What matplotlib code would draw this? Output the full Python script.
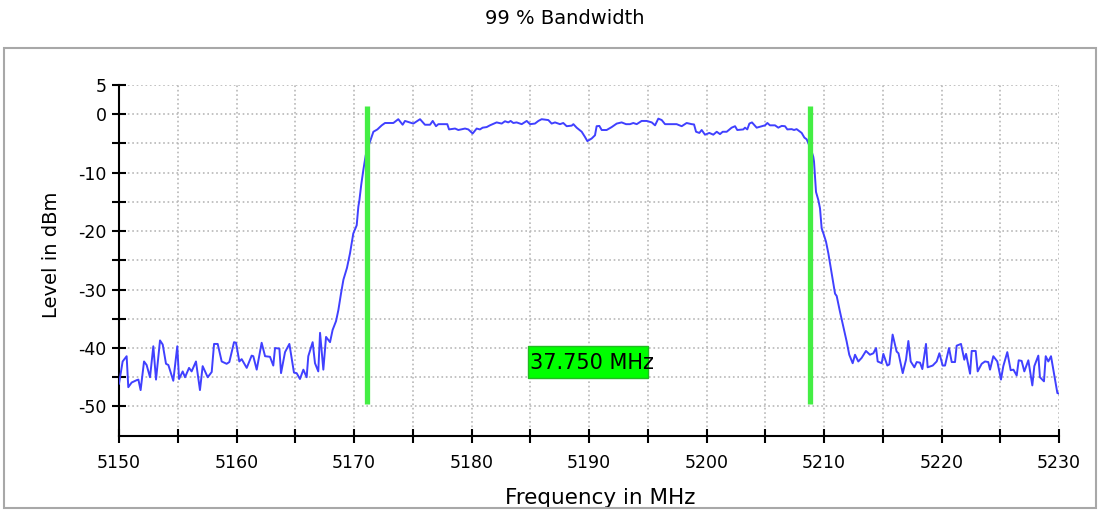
import numpy as np
import matplotlib
matplotlib.use('Agg')
import matplotlib.pyplot as plt
from matplotlib.patches import Rectangle

# spectrum trace (MHz, dBm)
freq = [5150.0, 5150.31, 5150.65, 5150.79, 5151.08, 5151.50, 5151.65, 5151.84, 5152.13, 5152.35,
        5152.64, 5152.92, 5153.15, 5153.49, 5153.72, 5154.00, 5154.20, 5154.62, 5154.96, 5155.11,
        5155.42, 5155.62, 5155.96, 5156.18, 5156.55, 5156.89, 5157.12, 5157.55, 5157.89, 5158.09,
        5158.40, 5158.74, 5159.16, 5159.39, 5159.79, 5159.96, 5160.24, 5160.44, 5160.87, 5161.29,
        5161.43, 5161.72, 5162.14, 5162.43, 5162.85, 5163.13, 5163.28, 5163.65, 5163.79, 5164.13,
        5164.50, 5164.89, 5165.12, 5165.40, 5165.69, 5165.97, 5166.11, 5166.48, 5166.68, 5166.96,
        5167.11, 5167.39, 5167.62, 5167.96, 5168.18, 5168.47, 5168.67, 5168.90, 5169.10, 5169.40,
        5169.66, 5169.94, 5170.23, 5170.37, 5170.46, 5170.62, 5170.79, 5171.00, 5171.36, 5171.65,
        5171.99, 5172.36, 5172.64, 5173.35, 5173.77, 5174.14, 5174.34, 5175.05, 5175.62, 5176.04,
        5176.47, 5176.70, 5176.98, 5177.18, 5177.94, 5178.09, 5178.60, 5178.88, 5179.45, 5179.73,
        5180.10, 5180.44, 5180.72, 5180.95, 5181.29, 5181.57, 5182.14, 5182.57, 5182.85, 5183.13,
        5183.33, 5183.56, 5183.84, 5184.27, 5184.70, 5184.98, 5185.40, 5185.69, 5185.97, 5186.54,
        5186.82, 5187.11, 5187.53, 5187.81, 5188.10, 5188.53, 5188.67, 5188.95, 5189.38, 5189.66,
        5189.86, 5190.23, 5190.51, 5190.65, 5190.88, 5191.08, 5191.50, 5191.93, 5192.36, 5192.78,
        5193.15, 5193.49, 5193.77, 5194.06, 5194.48, 5194.91, 5195.34, 5195.62, 5195.90, 5196.19,
        5196.47, 5197.18, 5197.46, 5197.89, 5198.31, 5198.74, 5198.94, 5199.11, 5199.39, 5199.59,
        5199.87, 5200.24, 5200.58, 5200.87, 5201.15, 5201.38, 5201.72, 5202.14, 5202.43, 5202.62,
        5203.13, 5203.28, 5203.47, 5203.65, 5203.87, 5204.27, 5204.70, 5204.98, 5205.18, 5205.40,
        5205.83, 5206.11, 5206.40, 5206.68, 5206.88, 5207.25, 5207.45, 5207.67, 5208.10, 5208.33,
        5208.53, 5208.67, 5208.83, 5209.09, 5209.15, 5209.32, 5209.52, 5209.66, 5209.80, 5210.00,
        5210.17, 5210.37, 5210.65, 5210.94, 5211.08, 5211.36, 5211.64, 5211.93, 5212.15, 5212.44,
        5212.64, 5212.92, 5213.20, 5213.57, 5213.91, 5214.20, 5214.43, 5214.57, 5214.91, 5215.05,
        5215.39, 5215.56, 5215.84, 5216.18, 5216.34, 5216.70, 5216.98, 5217.18, 5217.38, 5217.69,
        5217.89, 5218.17, 5218.37, 5218.68, 5218.82, 5219.25, 5219.59, 5219.82, 5220.10, 5220.30,
        5220.64, 5220.87, 5221.15, 5221.29, 5221.66, 5221.94, 5222.09, 5222.43, 5222.57, 5222.91,
        5223.08, 5223.42, 5223.70, 5223.98, 5224.13, 5224.41, 5224.75, 5225.06, 5225.26, 5225.60,
        5225.89, 5226.12, 5226.40, 5226.57, 5226.82, 5227.05, 5227.39, 5227.73, 5227.90, 5228.24,
        5228.38, 5228.72, 5228.87, 5229.09, 5229.32, 5229.86, 5230.0]

level = [-46.1, -42.3, -41.4, -46.7, -45.9, -45.5, -45.4, -47.2, -42.3, -42.9,
         -45.0, -39.7, -45.4, -38.7, -39.4, -42.7, -42.9, -45.6, -39.7, -45.3,
         -44.0, -45.0, -43.4, -44.0, -42.3, -47.2, -43.1, -45.0, -44.1, -39.3,
         -39.3, -42.3, -42.7, -42.4, -39.0, -39.1, -42.3, -41.9, -43.4, -41.3,
         -41.4, -43.7, -39.1, -41.4, -41.5, -43.0, -40.0, -40.1, -44.3, -40.7,
         -39.3, -44.2, -44.3, -45.3, -43.7, -45.0, -41.4, -39.0, -42.6, -44.0,
         -37.4, -43.7, -38.1, -39.0, -36.9, -35.4, -33.5, -30.6, -28.3, -26.3,
         -23.8, -20.4, -19.0, -15.8, -14.7, -12.0, -9.6, -7.0, -4.7, -3.0,
         -2.6, -1.9, -1.5, -1.5, -0.85, -1.8, -1.15, -1.6, -0.85, -1.8,
         -1.8, -1.15, -2.05, -1.7, -1.7, -2.6, -2.45, -2.7, -2.45, -2.6,
         -3.3, -2.45, -2.6, -2.3, -2.2, -1.9, -1.4, -1.6, -1.2, -1.4,
         -1.15, -1.5, -1.4, -1.7, -1.15, -1.7, -1.6, -1.15, -0.85, -1.0,
         -1.6, -1.4, -1.7, -1.5, -2.05, -1.95, -1.7, -2.3, -3.0, -3.9,
         -4.6, -4.15, -3.6, -2.05, -2.0, -2.7, -2.7, -2.2, -1.6, -1.4,
         -1.7, -1.7, -1.5, -1.7, -1.15, -1.15, -1.4, -1.9, -0.75, -1.0,
         -1.7, -1.7, -1.7, -2.05, -1.5, -1.7, -1.75, -3.0, -3.2, -2.7,
         -3.5, -3.2, -3.5, -3.0, -3.4, -3.0, -3.0, -2.3, -2.05, -2.7,
         -2.6, -2.3, -2.6, -1.6, -1.4, -2.3, -2.05, -1.9, -1.5, -1.9,
         -1.9, -2.3, -2.0, -2.05, -2.6, -2.55, -2.7, -2.55, -3.2, -4.0,
         -4.3, -5.0, -5.6, -7.3, -8.1, -13.3, -14.7, -16.1, -19.5, -20.7,
         -21.8, -23.8, -27.2, -30.7, -31.1, -33.8, -36.3, -38.9, -41.15, -42.6,
         -41.15, -42.3, -41.7, -40.5, -41.15, -40.9, -40.0, -42.3, -42.6, -41.0,
         -43.0, -42.8, -37.7, -40.6, -40.9, -44.3, -42.0, -38.8, -42.3, -43.3,
         -42.4, -42.5, -43.6, -39.3, -43.3, -43.0, -42.3, -40.9, -43.0, -43.0,
         -40.0, -42.4, -42.4, -39.6, -39.3, -42.0, -41.0, -44.4, -40.5, -40.5,
         -44.0, -42.7, -42.3, -42.4, -43.7, -41.4, -42.3, -45.4, -43.1, -40.7,
         -43.8, -43.7, -44.7, -42.1, -42.2, -44.0, -42.1, -46.4, -43.1, -41.3,
         -45.0, -45.7, -41.4, -42.3, -41.4, -47.7, -47.8]

# 99 % bandwidth markers
markerFreq = [5171.1, 5208.85]
markerTop = 1.4
markerBottom = -49.5
bwText = '37.750 MHz'

xTicks = list(range(5150, 5231, 5))
xTickLabels = [str(t) if t % 10 == 0 else '' for t in xTicks]
yTicks = list(range(-50, 6, 5))
yTickLabels = ['-50', '', '-40', '', '-30', '', '-20', '', '-10', '', '0', '5']

fig = plt.figure(figsize=(10.99, 5.14), dpi=100)
ax = fig.add_axes([119/1099, 1 - 435.7/514, 940/1099, (435.7 - 85)/514])

# outer gray frame
fig.patches.append(Rectangle((4/1099, 1 - 508/514), 1092/1099, 460/514, transform=fig.transFigure,
                             fill=False, edgecolor='#a8a8a8', lw=1.5, zorder=0))

fig.text(565/1099, 1 - 19/514, '99 % Bandwidth', ha='center', va='center', fontsize=14)

ax.plot(freq, level, color='#4040ff', lw=1.4, zorder=3)
ax.vlines(markerFreq, markerBottom, markerTop, color='#44ee44', lw=3.8, zorder=4)

# bandwidth label box
box = Rectangle((5184.8, -45.1), 10.2, 5.5, facecolor='#00ff00', edgecolor='#22bb22', lw=1, zorder=5)
ax.add_patch(box)
ax.text(5185.0, -42.5, bwText, ha='left', va='center', fontsize=15, zorder=6)

ax.set_xlim(5150, 5230)
ax.set_ylim(-55, 5)
ax.set_xticks(xTicks)
ax.set_xticklabels(xTickLabels)
ax.set_yticks(yTicks)
ax.set_yticklabels(yTickLabels)
ax.tick_params(direction='inout', length=10, width=1.5, labelsize=12.5)
ax.tick_params(axis='x', pad=8)
ax.tick_params(axis='y', pad=4)

ax.grid(True, color='#b8b8b8', linestyle=':', lw=1.2)
for s in ['top', 'right']:
    ax.spines[s].set_visible(False)
for s in ['left', 'bottom']:
    ax.spines[s].set_linewidth(1.5)

ax.set_xlabel('Frequency in MHz', fontsize=15.5)
ax.xaxis.set_label_coords((600 - 119)/940, -0.148)
ax.set_ylabel('Level in dBm', fontsize=14)
ax.yaxis.set_label_coords(-0.062, 0.515)

fig.savefig('out.png', dpi=100)
